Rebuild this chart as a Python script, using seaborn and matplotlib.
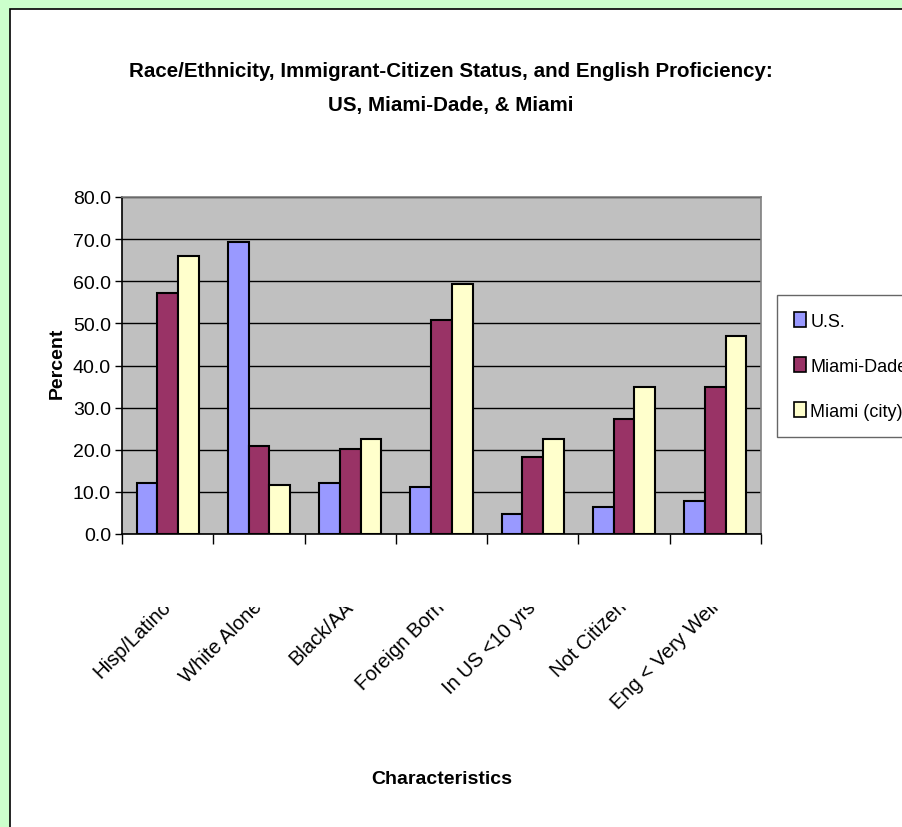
import matplotlib
matplotlib.use("Agg")
import matplotlib.pyplot as plt
from matplotlib.patches import Rectangle, Patch
from matplotlib.transforms import Bbox, TransformedBbox
import seaborn as sns
import pandas as pd

categories = ["Hisp/Latino", "White Alone", "Black/AA", "Foreign Born",
              "In US <10 yrs", "Not Citizen", "Eng < Very Well"]
series_names = ["U.S.", "Miami-Dade", "Miami (city)"]
us_vals = [12.2, 69.2, 12.2, 11.1, 4.8, 6.3, 7.9]
dade_vals = [57.3, 20.8, 20.2, 50.8, 18.2, 27.3, 34.8]
city_vals = [65.9, 11.7, 22.5, 59.4, 22.5, 34.8, 47.1]
colors = ["#9999FF", "#993366", "#FFFFCC"]
yticks = [0, 10, 20, 30, 40, 50, 60, 70, 80]

rows = []
for name, vals in zip(series_names, [us_vals, dade_vals, city_vals]):
    for cat, v in zip(categories, vals):
        rows.append({"cat": cat, "series": name, "value": v})
df = pd.DataFrame(rows)

sns.set_style("white")
plt.rcParams["font.family"] = ["Liberation Sans Narrow", "Liberation Sans", "DejaVu Sans"]
plt.rcParams["text.color"] = "black"
plt.rcParams["axes.labelcolor"] = "black"
plt.rcParams["xtick.color"] = "black"
plt.rcParams["ytick.color"] = "black"

fig = plt.figure(figsize=(9.02, 8.28), dpi=100)
fig.patch.set_facecolor("#CCFFCC")
W, H = 902, 828
# white inner panel with black frame
panel = Rectangle((10 / W, -0.1), 1.2, 1.1 - 10 / H,
                  transform=fig.transFigure, facecolor="white",
                  edgecolor="black", linewidth=1.2, zorder=-5)
fig.patches.append(panel)

ax = fig.add_axes([122 / W, 1 - 535 / H, (761 - 122) / W, (535 - 198) / H])
ax.set_zorder(1)
ax.set_facecolor("#C0C0C0")

sns.barplot(data=df, x="cat", y="value", hue="series", palette=colors,
            saturation=1, width=0.68, edgecolor="black", linewidth=1.5,
            ax=ax, legend=False, zorder=3)

ax.set_ylim(0, 80)
ax.set_xlim(-0.5, len(categories) - 0.5)
ax.set_yticks(yticks)
ax.set_yticklabels([f"{t:.1f}" for t in yticks], fontsize=14)
ax.yaxis.grid(True, color="black", linewidth=1, zorder=1)
ax.set_axisbelow(True)
ax.tick_params(axis="y", direction="out", length=5, width=1, left=True, pad=3)

ax.set_xticks(range(len(categories)))
ax.set_xticklabels(categories, rotation=45, ha="right", va="center",
                   rotation_mode="anchor", fontsize=14.5)
ax.tick_params(axis="x", which="major", length=0, pad=50)
ax.set_xticks([i - 0.5 for i in range(len(categories) + 1)], minor=True)
ax.tick_params(axis="x", which="minor", direction="out", length=7, width=1,
               bottom=True)

# category labels are cut off just below the axis, as in the original
clip = TransformedBbox(Bbox([[0, 0], [1, 1 - 608 / H]]), fig.transFigure)
for lab in ax.get_xticklabels():
    lab.set_clip_box(clip)
    lab.set_clip_on(True)

for s in ["left", "bottom"]:
    ax.spines[s].set_color("black")
    ax.spines[s].set_linewidth(1.2)
for s in ["top", "right"]:
    ax.spines[s].set_color("#808080")
    ax.spines[s].set_linewidth(1.2)

ax.set_ylabel("Percent", fontsize=14, fontweight="bold")
ax.yaxis.set_label_coords((66 - 122) / 639, 0.51)
ax.set_xlabel("Characteristics", fontsize=14, fontweight="bold")
ax.xaxis.set_label_coords(0.5, -(771 - 535) / 337)

fig.text(451 / W, 1 - 72 / H, "Race/Ethnicity, Immigrant-Citizen Status, and English Proficiency:",
         ha="center", va="center", fontsize=14.8, fontweight="bold")
fig.text(451 / W, 1 - 105 / H, "US, Miami-Dade, & Miami",
         ha="center", va="center", fontsize=14.8, fontweight="bold")

handles = [Patch(facecolor=c, edgecolor="black", linewidth=1.2) for c in colors]
leg = fig.legend(handles, series_names, loc="upper left",
                 bbox_to_anchor=(777 / W, 1 - 296 / H), fontsize=13,
                 frameon=True, fancybox=False, edgecolor="#404040",
                 handlelength=0.65, handleheight=0.9, handletextpad=0.25,
                 labelspacing=1.52, borderpad=0.95, borderaxespad=0)
leg.get_frame().set_linewidth(1.0)

fig.savefig("out.png", dpi=100, facecolor=fig.get_facecolor())
